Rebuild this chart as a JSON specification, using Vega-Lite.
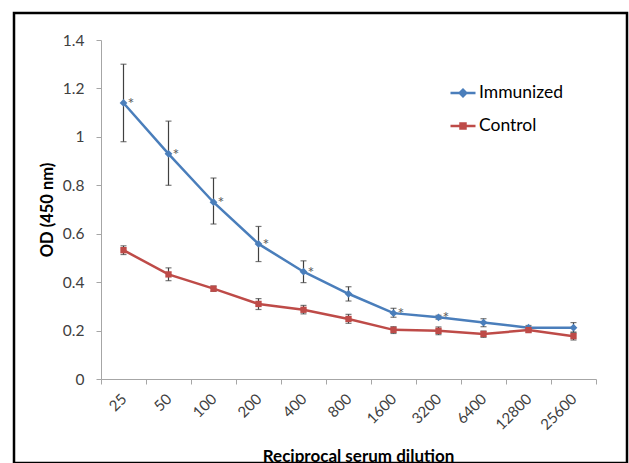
{
  "$schema": "https://vega.github.io/schema/vega-lite/v6.json",
  "autosize": {"type": "none"},
  "padding": {"left": 14, "top": 13, "right": 2, "bottom": 0},
  "width": 613,
  "height": 450,
  "view": {"stroke": "#000000", "strokeWidth": 2.5, "fill": "#ffffff"},
  "config": {"font": "Lato"},
  "data": {
    "values": [
      {"dilution": "25", "series": "Immunized", "od": 1.14, "lo": 0.98, "hi": 1.30, "sig": "*"},
      {"dilution": "50", "series": "Immunized", "od": 0.93, "lo": 0.80, "hi": 1.065, "sig": "*"},
      {"dilution": "100", "series": "Immunized", "od": 0.73, "lo": 0.64, "hi": 0.83, "sig": "*"},
      {"dilution": "200", "series": "Immunized", "od": 0.558, "lo": 0.485, "hi": 0.63, "sig": "*"},
      {"dilution": "400", "series": "Immunized", "od": 0.443, "lo": 0.398, "hi": 0.488, "sig": "*"},
      {"dilution": "800", "series": "Immunized", "od": 0.352, "lo": 0.322, "hi": 0.381, "sig": ""},
      {"dilution": "1600", "series": "Immunized", "od": 0.272, "lo": 0.255, "hi": 0.292, "sig": "*"},
      {"dilution": "3200", "series": "Immunized", "od": 0.255, "lo": 0.247, "hi": 0.263, "sig": "*"},
      {"dilution": "6400", "series": "Immunized", "od": 0.233, "lo": 0.216, "hi": 0.249, "sig": ""},
      {"dilution": "12800", "series": "Immunized", "od": 0.212, "lo": 0.204, "hi": 0.221, "sig": ""},
      {"dilution": "25600", "series": "Immunized", "od": 0.212, "lo": 0.194, "hi": 0.233, "sig": ""},
      {"dilution": "25", "series": "Control", "od": 0.532, "lo": 0.514, "hi": 0.55, "sig": ""},
      {"dilution": "50", "series": "Control", "od": 0.432, "lo": 0.406, "hi": 0.459, "sig": ""},
      {"dilution": "100", "series": "Control", "od": 0.373, "lo": 0.362, "hi": 0.384, "sig": ""},
      {"dilution": "200", "series": "Control", "od": 0.31, "lo": 0.287, "hi": 0.332, "sig": ""},
      {"dilution": "400", "series": "Control", "od": 0.286, "lo": 0.269, "hi": 0.304, "sig": ""},
      {"dilution": "800", "series": "Control", "od": 0.248, "lo": 0.23, "hi": 0.267, "sig": ""},
      {"dilution": "1600", "series": "Control", "od": 0.203, "lo": 0.188, "hi": 0.216, "sig": ""},
      {"dilution": "3200", "series": "Control", "od": 0.199, "lo": 0.183, "hi": 0.215, "sig": ""},
      {"dilution": "6400", "series": "Control", "od": 0.186, "lo": 0.172, "hi": 0.198, "sig": ""},
      {"dilution": "12800", "series": "Control", "od": 0.202, "lo": 0.194, "hi": 0.211, "sig": ""},
      {"dilution": "25600", "series": "Control", "od": 0.177, "lo": 0.161, "hi": 0.191, "sig": ""}
    ]
  },
  "encoding": {
    "x": {
      "field": "dilution",
      "type": "ordinal",
      "scale": {
        "type": "band",
        "domain": ["25", "50", "100", "200", "400", "800", "1600", "3200", "6400", "12800", "25600"],
        "range": [87, 582],
        "paddingInner": 0,
        "paddingOuter": 0
      },
      "axis": {
        "orient": "bottom",
        "offset": -84,
        "tickBand": "extent",
        "tickSize": 5,
        "tickColor": "#a6a6a6",
        "domainColor": "#a6a6a6",
        "labelAngle": -45,
        "labelAlign": "right",
        "labelBaseline": "middle",
        "labelPadding": 12,
        "labelFontSize": 15,
        "labelColor": "#404040",
        "title": "Reciprocal serum dilution",
        "titleFontSize": 17,
        "titleFontWeight": "bold",
        "titleColor": "#000000",
        "titlePadding": 16,
        "titleX": 344,
        "titleAlign": "center"
      }
    }
  },
  "layer": [
    {
      "mark": {"type": "rule", "color": "#404040", "strokeWidth": 1.2},
      "encoding": {
        "y": {"field": "lo", "type": "quantitative"},
        "y2": {"field": "hi"}
      }
    },
    {
      "mark": {"type": "tick", "color": "#404040", "size": 6, "thickness": 1.2},
      "encoding": {"y": {"field": "lo", "type": "quantitative"}}
    },
    {
      "mark": {"type": "tick", "color": "#404040", "size": 6, "thickness": 1.2},
      "encoding": {"y": {"field": "hi", "type": "quantitative"}}
    },
    {
      "mark": {"type": "line", "strokeWidth": 2.5},
      "encoding": {
        "y": {
          "field": "od",
          "type": "quantitative",
          "scale": {"domain": [0, 1.4], "range": [366, 27], "nice": false},
          "axis": {
            "orient": "left",
            "offset": -87,
            "values": [0, 0.2, 0.4, 0.6, 0.8, 1, 1.2, 1.4],
            "format": ".1~f",
            "grid": false,
            "tickSize": 5,
            "tickColor": "#a6a6a6",
            "domainColor": "#a6a6a6",
            "labelFontSize": 15.5,
            "labelColor": "#404040",
            "labelPadding": 12,
            "title": "OD (450 nm)",
            "titleFontSize": 16.5,
            "titleFontWeight": "bold",
            "titleColor": "#000000",
            "titlePadding": 7
          }
        },
        "color": {
          "field": "series",
          "type": "nominal",
          "scale": {"domain": ["Immunized", "Control"], "range": ["#4a7ebb", "#be4b48"]},
          "legend": {
            "orient": "none",
            "legendX": 435,
            "legendY": 66,
            "title": null,
            "padding": 0,
            "symbolType": "stroke",
            "symbolSize": 625,
            "symbolStrokeWidth": 2.5,
            "labelFontSize": 17.5,
            "labelColor": "#000000",
            "labelOffset": 2,
            "rowPadding": 10,
            "encode": {
              "symbols": {
                "update": {
                  "shape": {"signal": "datum.value === 'Immunized' ? 'M-1,0H1M-0.26,0L0,-0.26L0.26,0L0,0.26Z' : 'M-1,0H1M-0.2,-0.2H0.2V0.2H-0.2Z'"},
                  "fill": {"scale": "color", "field": "value"}
                }
              }
            }
          }
        }
      }
    },
    {
      "transform": [{"filter": "datum.series === 'Immunized'"}],
      "mark": {"type": "point", "filled": true, "opacity": 1, "shape": "diamond", "size": 60},
      "encoding": {
        "y": {"field": "od", "type": "quantitative"},
        "color": {"field": "series", "type": "nominal", "legend": null}
      }
    },
    {
      "transform": [{"filter": "datum.series === 'Control'"}],
      "mark": {"type": "point", "filled": true, "opacity": 1, "shape": "square", "size": 40},
      "encoding": {
        "y": {"field": "od", "type": "quantitative"},
        "color": {"field": "series", "type": "nominal", "legend": null}
      }
    },
    {
      "transform": [{"filter": "datum.sig !== ''"}],
      "mark": {"type": "text", "align": "left", "baseline": "middle", "dx": 4, "dy": 1, "fontSize": 16, "color": "#595959"},
      "encoding": {
        "y": {"field": "od", "type": "quantitative"},
        "text": {"field": "sig"}
      }
    }
  ]
}
